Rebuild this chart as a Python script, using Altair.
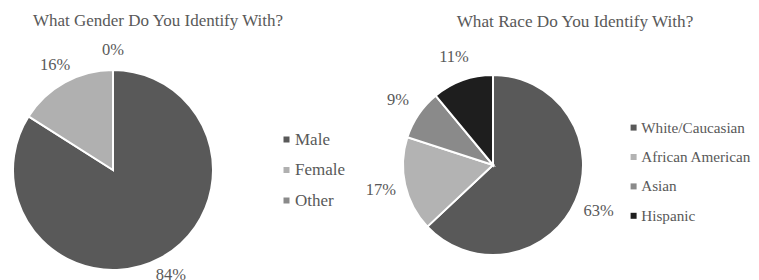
import altair as alt
import pandas as pd

gender_cats = ["Male", "Female", "Other"]
gender_vals = [84, 16, 0]
gender_colors = ["#595959", "#b0b0b0", "#8a8a8a"]

race_cats = ["White/Caucasian", "African American", "Asian", "Hispanic"]
race_vals = [63, 17, 9, 11]
race_colors = ["#595959", "#b3b3b3", "#8a8a8a", "#1e1e1e"]

title_gender = "What Gender Do You Identify With?"
title_race = "What Race Do You Identify With?"

FONT = "Liberation Serif"
TXT = "#595959"
FS = 16.5

g_df = pd.DataFrame({"cat": gender_cats, "v": gender_vals, "i": range(len(gender_cats))})
r_df = pd.DataFrame({"cat": race_cats, "v": race_vals, "i": range(len(race_cats))})


def pie(df, cats, colors, cx, cy, r, label_r, lx, ly, rowpad, lfs):
    base = alt.Chart(df).transform_calculate(lab="datum.v + '%'")
    arc = base.mark_arc(outerRadius=r, stroke="white", strokeWidth=2).encode(
        theta=alt.Theta("v:Q", stack=True),
        color=alt.Color(
            "cat:N",
            scale=alt.Scale(domain=cats, range=colors),
            legend=alt.Legend(
                title=None, orient="none", legendX=lx, legendY=ly,
                symbolType="square", symbolSize=36, symbolStrokeWidth=0,
                labelFont=FONT, labelFontSize=lfs, labelColor=TXT,
                labelOffset=0, rowPadding=rowpad, padding=0,
                labelLimit=300,
            ),
            sort=cats,
        ),
        order=alt.Order("i:Q"),
        x=alt.value(cx),
        y=alt.value(cy),
    )
    txt = base.mark_text(radius=label_r, font=FONT, fontSize=FS, color=TXT).encode(
        theta=alt.Theta("v:Q", stack=True),
        order=alt.Order("i:Q"),
        text="lab:N",
        x=alt.value(cx),
        y=alt.value(cy),
    )
    return alt.layer(arc, txt)


g = pie(g_df, gender_cats, gender_colors, 105, 162, 100, 120, 270, 123, 12.5, 17)
r = pie(r_df, race_cats, race_colors, 485, 157, 90, 115, 618, 112, 13.4, 15.2)

t1 = alt.Chart(pd.DataFrame({"t": [title_gender]})).mark_text(
    font=FONT, fontSize=17, color=TXT, baseline="middle"
).encode(text="t:N", x=alt.value(150), y=alt.value(13))
t2 = alt.Chart(pd.DataFrame({"t": [title_race]})).mark_text(
    font=FONT, fontSize=17.2, color=TXT, baseline="middle"
).encode(text="t:N", x=alt.value(567), y=alt.value(14))

chart = alt.layer(g, r, t1, t2).resolve_scale(
    color="independent", theta="independent"
).properties(
    width=743, height=272, padding=0,
    autosize=alt.AutoSizeParams(type="none"),
).configure_view(stroke=None)

chart.save("out.html", embed_options={"renderer": "svg", "actions": False})
